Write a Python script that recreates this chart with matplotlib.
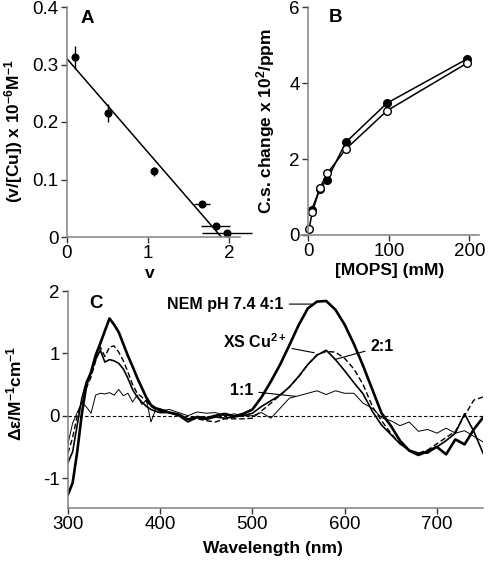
import matplotlib
matplotlib.use('Agg')
import matplotlib.pyplot as plt

plt.rcParams['font.family'] = ['Liberation Sans', 'DejaVu Sans']
plt.rcParams['mathtext.default'] = 'regular'
plt.rcParams['axes.unicode_minus'] = False

# --- panel A: Scatchard ---
a_v = [0.10, 0.51, 1.07, 1.66, 1.83, 1.97]
a_y = [0.313, 0.216, 0.114, 0.057, 0.019, 0.0075]
a_xerr = [0.0, 0.0, 0.03, 0.10, 0.18, 0.31]
a_yerr = [0.020, 0.016, 0.008, 0.0, 0.0, 0.0]
fit_v = [0.0, 1.90]
fit_y = [0.310, 0.0]

# --- panel B: MOPS titration ---
b_x_filled = [4.1, 14.0, 23.5, 46.6, 97.7, 197.0]
b_y_filled = [0.66, 1.20, 1.46, 2.44, 3.47, 4.63]
b_x_open = [0.8, 5.0, 14.4, 23.5, 46.6, 97.7, 197.0]
b_y_open = [0.15, 0.60, 1.24, 1.62, 2.26, 3.27, 4.52]

# --- panel C: CD spectra ---
wl = [300, 305, 310, 315, 320, 325, 330, 335, 340, 345, 350, 355, 360, 365,
      370, 375, 380, 385, 390, 395, 400, 410, 420, 430, 440, 450, 460, 470,
      480, 490, 500, 510, 520, 530, 540, 550, 560, 570, 580, 590, 600, 610,
      620, 630, 640, 650, 660, 670, 680, 690, 700, 710, 720, 730, 740, 750]
nem_41 = [-1.26, -1.08, -0.58, 0.03, 0.50, 0.70, 0.97, 1.16, 1.36, 1.56, 1.46,
          1.34, 1.15, 0.96, 0.79, 0.61, 0.45, 0.29, 0.17, 0.12, 0.10, 0.05,
          0.02, -0.06, -0.02, -0.04, 0.00, 0.03, -0.01, 0.03, 0.10, 0.30, 0.55,
          0.82, 1.13, 1.45, 1.72, 1.83, 1.84, 1.70, 1.46, 1.15, 0.80, 0.42,
          0.04, -0.16, -0.40, -0.56, -0.63, -0.57, -0.50, -0.62, -0.38, -0.46,
          -0.22, -0.03]
xs_cu = [-0.75, -0.58, -0.15, 0.28, 0.55, 0.70, 0.90, 1.05, 0.86, 0.90, 0.88,
         0.84, 0.75, 0.60, 0.42, 0.30, 0.22, 0.15, 0.10, 0.07, 0.05, 0.05,
         0.00, -0.10, -0.03, -0.06, -0.02, -0.04, -0.02, 0.00, 0.04, 0.15,
         0.24, 0.33, 0.46, 0.63, 0.82, 0.97, 1.05, 0.90, 0.72, 0.53, 0.35,
         0.07, -0.15, -0.30, -0.45, -0.55, -0.60, -0.60, -0.50, -0.40, -0.28,
         0.03, -0.25, -0.60]
r_21 = [-0.60, -0.35, 0.00, 0.22, 0.45, 0.62, 0.88, 1.10, 0.95, 1.10, 1.12,
        1.02, 0.88, 0.70, 0.50, 0.36, 0.30, 0.23, 0.15, 0.10, 0.07, 0.05,
        0.00, -0.05, -0.05, -0.08, -0.10, -0.05, -0.05, -0.05, -0.04, 0.08,
        0.20, 0.33, 0.46, 0.62, 0.82, 0.98, 1.03, 1.02, 0.92, 0.75, 0.50,
        0.15, -0.08, -0.28, -0.45, -0.56, -0.60, -0.55, -0.45, -0.35, -0.25,
        0.00, 0.25, 0.30]
r_11 = [-0.45, -0.12, 0.05, 0.22, 0.14, 0.04, 0.33, 0.36, 0.35, 0.37, 0.33,
        0.42, 0.32, 0.36, 0.22, 0.33, 0.18, 0.25, -0.10, 0.10, 0.08, 0.10,
        0.05, 0.00, 0.06, 0.04, 0.05, 0.00, 0.03, 0.00, 0.00, 0.05, -0.04,
        0.12, 0.28, 0.32, 0.36, 0.40, 0.34, 0.40, 0.36, 0.36, 0.20, 0.12,
        -0.03, -0.08, -0.16, -0.10, -0.25, -0.22, -0.28, -0.20, -0.28, -0.24,
        -0.33, -0.42]

SPINE = '#808080'
TFS = 13.5   # tick labels
FS = 12.5    # axis labels / panel letters


def style(ax):
    for s in ['top', 'right']:
        ax.spines[s].set_visible(False)
    for s in ['left', 'bottom']:
        ax.spines[s].set_color(SPINE)
        ax.spines[s].set_linewidth(1.1)
    ax.tick_params(direction='out', length=4, width=1, color='#333333',
                   labelsize=TFS, pad=2)


fig = plt.figure(figsize=(4.88, 5.62), dpi=100)

# ---------- A ----------
axA = fig.add_axes([67 / 488, 1 - 237 / 562, 173 / 488, 230 / 562])
style(axA)
axA.plot(fit_v, fit_y, color='black', lw=1.1)
axA.errorbar(a_v, a_y, xerr=a_xerr, yerr=a_yerr, fmt='o', color='black',
             ms=4.8, elinewidth=1, capsize=0, clip_on=False)
axA.set_xlim(0, 2.13)
axA.set_ylim(0, 0.4)
axA.set_xticks([0, 1, 2])
axA.set_yticks([0, 0.1, 0.2, 0.3, 0.4])
axA.set_yticklabels(['0', '0.1', '0.2', '0.3', '0.4'])
axA.set_xlabel('v', fontsize=FS, fontweight='bold')
axA.xaxis.set_label_coords(0.48, -0.125)
axA.set_ylabel('(v/[Cu]) x 10$^{-6}$M$^{-1}$', fontsize=FS, fontweight='bold')
axA.yaxis.set_label_coords(-0.245, 0.46)
axA.text(0.08, 0.985, 'A', transform=axA.transAxes, fontsize=FS + 1,
         fontweight='bold', va='top')

# ---------- B ----------
axB = fig.add_axes([300 / 488, 1 - 235 / 562, 179 / 488, 228 / 562])
style(axB)
axB.spines['left'].set_position(('data', 0))
axB.plot(b_x_filled, b_y_filled, '-o', color='black', mfc='black', mec='black',
         ms=5.5, lw=1.1, clip_on=False)
axB.plot(b_x_open, b_y_open, '-o', color='black', mfc='white', mec='black',
         ms=5.5, lw=1.1, clip_on=False)
axB.set_xlim(-10.3, 212)
axB.set_ylim(0, 6)
axB.set_xticks([0, 100, 200])
axB.set_yticks([0, 2, 4, 6])
axB.set_xlabel('[MOPS] (mM)', fontsize=FS, fontweight='bold')
axB.xaxis.set_label_coords(0.5, -0.125)
axB.set_ylabel('C.s. change x 10$^{2}$/ppm', fontsize=FS, fontweight='bold')
axB.yaxis.set_label_coords(-0.13, 0.5)
axB.text(0.16, 0.99, 'B', transform=axB.transAxes, fontsize=FS + 1,
         fontweight='bold', va='top')

# ---------- C ----------
axC = fig.add_axes([68 / 488, 1 - 508 / 562, 415 / 488, 217 / 562])
style(axC)
axC.axhline(0, color='black', lw=0.8, ls=(0, (3, 2)))
axC.plot(wl, r_11, color='black', lw=0.7)
axC.plot(wl, r_21, color='black', lw=1.0, ls=(0, (4, 2)))
axC.plot(wl, xs_cu, color='black', lw=1.2)
axC.plot(wl, nem_41, color='black', lw=1.9)
axC.set_xlim(300, 750)
axC.set_ylim(-1.48, 2.0)
axC.set_xticks([300, 400, 500, 600, 700])
axC.set_yticks([-1, 0, 1, 2])
axC.set_xlabel('Wavelength (nm)', fontsize=FS, fontweight='bold')
axC.xaxis.set_label_coords(0.494, -0.15)
axC.set_ylabel('Δε/M$^{-1}$cm$^{-1}$', fontsize=FS, fontweight='bold')
axC.yaxis.set_label_coords(-0.105, 0.53)
axC.text(0.05, 0.98, 'C', transform=axC.transAxes, fontsize=FS + 1,
         fontweight='bold', va='top')

lead = dict(arrowstyle='-', color='black', lw=0.8, shrinkA=2, shrinkB=0)
afs = 11.5
axC.annotate('NEM pH 7.4 4:1', xy=(564, 1.79), xytext=(534, 1.79),
             ha='right', va='center', fontsize=afs, fontweight='bold',
             arrowprops=lead)
axC.annotate('XS Cu$^{2+}$', xy=(567, 1.01), xytext=(537, 1.19),
             ha='right', va='center', fontsize=afs, fontweight='bold',
             arrowprops=lead)
axC.annotate('2:1', xy=(589, 0.90), xytext=(628, 1.11),
             ha='left', va='center', fontsize=afs, fontweight='bold',
             arrowprops=lead)
axC.annotate('1:1', xy=(547, 0.31), xytext=(501, 0.405),
             ha='right', va='center', fontsize=afs, fontweight='bold',
             arrowprops=lead)

fig.savefig('out.png', dpi=100)
